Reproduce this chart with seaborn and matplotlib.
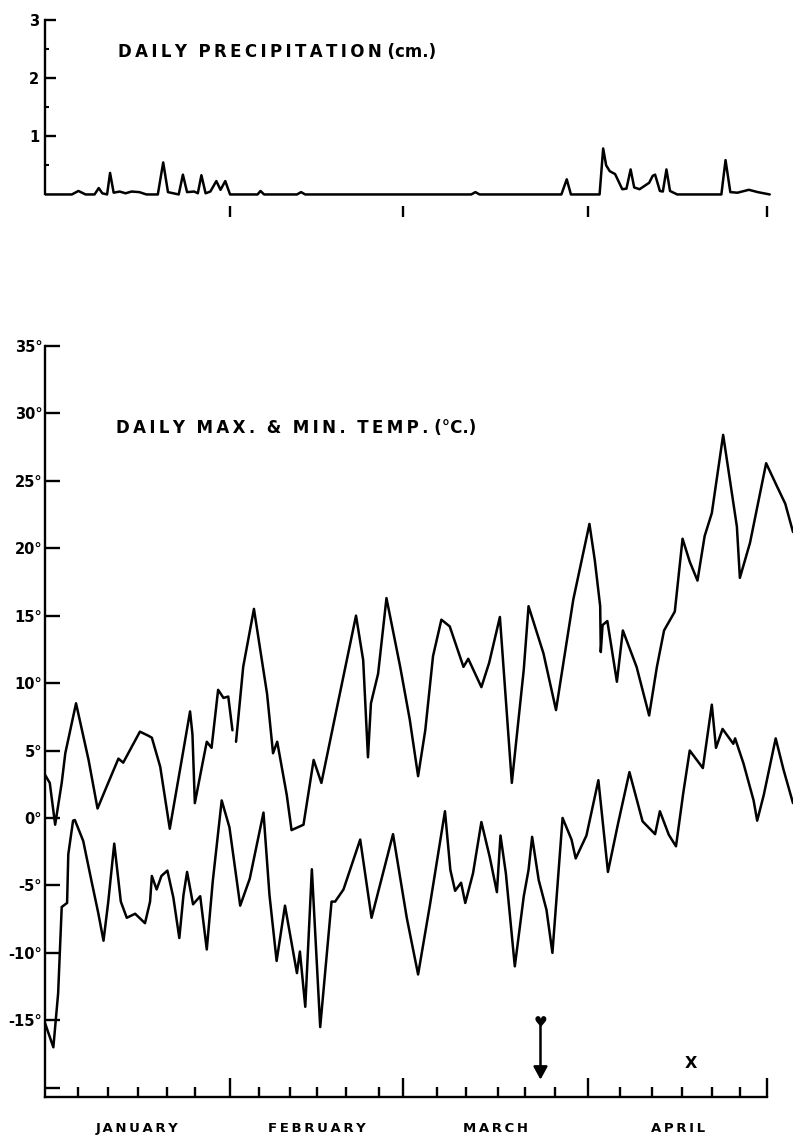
import numpy as np
import pandas as pd
import matplotlib
matplotlib.use("Agg")
import matplotlib.pyplot as plt
import seaborn as sns

# ---------------- data ----------------
# day index: 0 = 1 January, months Jan(31) Feb(29) Mar(31) Apr(30)
month_names = ["JANUARY", "FEBRUARY", "MARCH", "APRIL"]
month_start = [0, 31, 60, 91]
month_end = 121
month_mid = [15.5, 45.5, 75.5, 106.0]
minor_tick_days = [5.5, 10.5, 15.5, 20.4, 25.2,
                   35.8, 41.1, 45.5, 50.4, 55.9,
                   65.6, 70.6, 75.8, 80.4, 85.5,
                   96.4, 101.6, 106.7, 111.7, 116.4]

precip_day = [0, 4.5, 5.6, 6.8, 8.3, 9.0, 9.6, 10.4, 10.9, 11.5, 12.5, 13.5, 14.5,
              15.8, 17.0, 18.9, 19.8, 20.6, 22.4, 23.1, 23.8, 25.0, 25.6, 26.2, 26.9,
              27.7, 28.7, 29.4, 30.2, 31.0, 35.6, 36.1, 36.7, 42.2, 42.9, 43.6,
              71.4, 72.1, 72.8, 86.5, 87.4, 88.1, 92.9, 93.5, 94.0, 94.6, 95.5,
              96.7, 97.4, 98.1, 98.7, 99.6, 101.2, 101.8, 102.2, 103.0, 103.5,
              104.1, 104.7, 105.9, 113.3, 114.0, 114.8, 116.0, 117.9, 119.4, 121.4]
precip_cm = [0, 0, 0.06, 0, 0, 0.11, 0.02, 0, 0.37, 0.03, 0.05, 0.02, 0.05,
             0.04, 0, 0, 0.55, 0.04, 0, 0.34, 0.04, 0.05, 0.02, 0.33, 0.02,
             0.05, 0.23, 0.08, 0.23, 0, 0, 0.06, 0, 0, 0.04, 0,
             0, 0.04, 0, 0, 0.26, 0, 0, 0.79, 0.50, 0.40, 0.35,
             0.09, 0.10, 0.43, 0.12, 0.09, 0.20, 0.32, 0.34, 0.06, 0.05,
             0.43, 0.06, 0, 0, 0.59, 0.04, 0.03, 0.08, 0.04, 0]

tmax_day = [0.0, 0.8, 1.7, 2.8, 3.4, 5.2, 7.3, 8.8, 10.3, 12.3, 13.1, 15.9, 17.3,
            17.9, 19.3, 20.9, 22.9, 24.3, 24.7, 25.1, 26.5, 27.1, 27.9, 29.0, 29.9,
            30.7, 31.4,
            32.0, 33.2, 35.0, 37.2, 38.2, 38.9, 40.5, 41.3, 43.3, 45.0, 46.3, 49.1,
            52.1, 53.3, 54.1, 54.6, 55.8, 57.2, 59.5, 61.1, 62.5, 63.7, 65.0, 66.4,
            67.8, 70.1, 70.9, 73.1, 74.4, 76.2, 78.2, 80.2, 81.0, 83.5, 85.6, 88.5,
            91.2, 92.1, 93.0, 93.1, 93.4, 94.2, 95.8, 96.8, 99.1, 101.2, 102.5,
            103.7, 105.5, 106.8, 108.0, 109.3, 110.5, 111.7, 113.6, 115.9, 116.4,
            118.1, 120.8, 122.6, 124.0, 125.3]
tmax_c = [3.2, 2.6, -0.5, 2.6, 4.8, 8.5, 4.3, 0.7, 2.3, 4.4, 4.1, 6.4, 6.1,
          5.95, 3.8, -0.8, 4.3, 7.9, 6.2, 1.1, 4.3, 5.65, 5.2, 9.5, 8.9,
          9.0, 6.5,
          5.65, 11.2, 15.5, 9.2, 4.8, 5.65, 1.7, -0.9, -0.5, 4.3, 2.6, 8.6,
          15.0, 11.7, 4.5, 8.5, 10.7, 16.3, 11.2, 7.3, 3.1, 6.5, 12.0, 14.7,
          14.2, 11.2, 11.8, 9.7, 11.5, 14.9, 2.6, 11.0, 15.7, 12.2, 8.0, 16.2,
          21.8, 19.1, 15.7, 12.3, 14.3, 14.6, 10.1, 13.9, 11.2, 7.6, 11.2,
          13.9, 15.3, 20.7, 19.0, 17.6, 20.9, 22.6, 28.4, 21.6, 17.8,
          20.4, 26.3, 24.6, 23.3, 21.2]
# pen-stroke pieces of the max curve (the original trace breaks once)
tmax_piece = [0] * 27 + [1] * (len(tmax_day) - 27)

tmin_day = [0.0, 1.4, 2.2, 2.8, 3.7, 3.9, 4.7, 5.0, 6.4, 7.8, 8.9, 9.8, 10.6, 11.6,
            12.7, 13.7, 15.1, 16.75, 17.6, 17.9, 18.7, 19.5, 20.5, 21.5, 22.5, 23.2,
            23.8, 24.8, 26.0, 27.1, 28.1, 29.6, 30.9, 32.7, 34.3, 36.6, 37.6, 38.8,
            40.2, 42.2, 42.7, 43.6, 44.7, 46.1, 48.0, 48.6, 50.0, 52.8, 54.7, 58.3,
            60.6, 62.5, 64.5, 67.0, 67.9, 68.7, 69.7, 70.4, 71.7, 73.1, 74.5, 75.7,
            76.3, 77.2, 78.7, 80.2, 81.0, 81.6, 82.7, 84.0, 85.0, 86.7, 88.2, 88.9,
            90.7, 92.7, 94.3, 96.0, 97.9, 100.1, 102.2, 103.0, 104.5, 105.7, 106.9,
            108.0, 110.2, 111.7, 112.4, 113.5, 115.3, 115.6, 117.0, 118.7, 119.3,
            120.4, 122.4, 123.7, 125.3]
tmin_c = [-15.2, -17.0, -13.0, -6.6, -6.3, -2.7, -0.2, -0.15, -1.7, -4.7, -7.0, -9.1,
          -6.2, -1.9, -6.2, -7.4, -7.1, -7.8, -6.2, -4.3, -5.3, -4.3, -3.9, -5.9, -8.9,
          -5.7, -4.0, -6.4, -5.8, -9.75, -4.7, 1.3, -0.7, -6.5, -4.5, 0.4, -5.7, -10.6,
          -6.5, -11.5, -9.9, -14.0, -3.8, -15.5, -6.2, -6.2, -5.3, -1.6, -7.4, -1.2,
          -7.4, -11.6, -6.4, 0.5, -3.85, -5.4, -4.8, -6.3, -4.1, -0.3, -2.9, -5.5,
          -1.3, -4.1, -11.0, -5.8, -3.85, -1.4, -4.6, -6.8, -10.0, 0.0, -1.6, -3.0,
          -1.3, 2.8, -4.0, -0.4, 3.4, -0.25, -1.2, 0.5, -1.25, -2.1, 1.8,
          5.0, 3.7, 8.4, 5.2, 6.6, 5.5, 5.9, 4.05, 1.3, -0.2,
          1.7, 5.9, 3.6, 1.1]

temp_ticks = [-20, -15, -10, -5, 0, 5, 10, 15, 20, 25, 30, 35]
temp_tick_labels = ["", "-15°", "-10°", "-5°", "0°", "5°", "10°", "15°", "20°",
                    "25°", "30°", "35°"]
precip_ticks = [1, 2, 3]
precip_tick_labels = ["1", "2", "3"]

arrow_day, arrow_top, arrow_bottom = 83.0, -15.2, -19.4
x_mark_day, x_mark_temp = 108.2, -18.2

# ---------------- style ----------------
sns.set_theme(style="white", rc={"axes.edgecolor": "black", "xtick.color": "black",
                                 "ytick.color": "black", "text.color": "black"})
plt.rcParams["font.family"] = ["DejaVu Sans"]

THIN = "\u2009"

def spaced(words):
    return "  ".join(THIN.join(w) for w in words)

LW = 1.8
fig = plt.figure(figsize=(7.93, 11.39), dpi=100)
fig.patch.set_facecolor("white")
axp = fig.add_axes([45 / 793, 1 - 196.2 / 1139, 748 / 793, 179.3 / 1139])
axt = fig.add_axes([45 / 793, 1 - 1097.2 / 1139, 748 / 793, 755.4 / 1139])

# ---------------- precipitation panel ----------------
sns.lineplot(x=precip_day, y=precip_cm, ax=axp, color="black", linewidth=1.8,
             estimator=None, sort=False)
axp.set_xlim(0, 125.3)
axp.set_ylim(-0.03, 3.05)
for s in ["top", "right"]:
    axp.spines[s].set_visible(False)
axp.spines["bottom"].set_position(("outward", 7))
axp.spines["bottom"].set_visible(False)
axp.spines["left"].set_bounds(0, 3)
axp.spines["left"].set_linewidth(1.7)
axp.set_yticks(precip_ticks)
axp.set_yticklabels(precip_tick_labels, fontsize=10.5, fontweight="bold")
axp.set_yticks([0.5, 1.5, 2.5], minor=True)
axp.tick_params(axis="y", which="major", direction="in", length=8, width=1.7,
                pad=4, left=True)
axp.tick_params(axis="y", which="minor", direction="in", length=3, width=1.5, left=True)
axp.set_xticks([31, 60, 91, 121])
axp.set_xticklabels([])
axp.tick_params(axis="x", which="major", direction="out", length=8, width=1.7,
                bottom=True)
axp.set_xlabel("")
axp.set_ylabel("")
axp.text(12.2, 2.45, spaced(["DAILY", "PRECIPITATION"]) + " (cm.)",
         fontsize=12, fontweight="bold", ha="left", va="center")

# ---------------- temperature panel ----------------
df = pd.concat([
    pd.DataFrame({"day": tmax_day, "temp": tmax_c,
                  "piece": [f"max{p}" for p in tmax_piece]}),
    pd.DataFrame({"day": tmin_day, "temp": tmin_c, "piece": "min"}),
], ignore_index=True)
sns.lineplot(data=df, x="day", y="temp", units="piece", estimator=None,
             color="black", linewidth=LW, sort=False, ax=axt, legend=False)
axt.set_xlim(0, 125.3)
axt.set_ylim(-20.7, 35.3)
for s in ["top", "right"]:
    axt.spines[s].set_visible(False)
axt.spines["left"].set_bounds(-20.7, 35)
axt.spines["bottom"].set_bounds(0, month_end)
axt.spines["left"].set_linewidth(1.7)
axt.spines["bottom"].set_linewidth(1.7)
axt.set_yticks(temp_ticks)
axt.set_yticklabels(temp_tick_labels, fontsize=10.5, fontweight="bold")
axt.tick_params(axis="y", direction="in", length=11, width=1.7, pad=2, left=True)
axt.set_xticks(month_start[1:] + [month_end])
axt.set_xticklabels([])
axt.set_xticks(minor_tick_days, minor=True)
axt.tick_params(axis="x", which="major", direction="in", length=14, width=1.7,
                bottom=True)
axt.tick_params(axis="x", which="minor", direction="in", length=7, width=1.7,
                bottom=True)
axt.set_xlabel("")
axt.set_ylabel("")

for name, mid in zip(month_names, month_mid):
    axt.text(mid, -23.05, THIN.join(name), fontsize=9.5, fontweight="bold",
             ha="center", va="center", clip_on=False)

axt.text(11.9, 28.9, spaced(["DAILY", "MAX.", "&", "MIN.", "TEMP."]) + " (°C.)",
         fontsize=12, fontweight="bold", ha="left", va="center")

axt.annotate("", xy=(arrow_day, arrow_bottom), xytext=(arrow_day, arrow_top),
             arrowprops=dict(arrowstyle="-|>,head_length=0.55,head_width=0.3",
                             color="black", lw=1.8, shrinkA=0, shrinkB=0,
                             mutation_scale=14))
axt.text(arrow_day, arrow_top + 0.05, "♥", fontsize=11, color="black",
         ha="center", va="center")
axt.text(x_mark_day, x_mark_temp, "X", fontsize=11.5, fontweight="bold",
         ha="center", va="center")

fig.savefig("out.png", dpi=100, facecolor="white")
